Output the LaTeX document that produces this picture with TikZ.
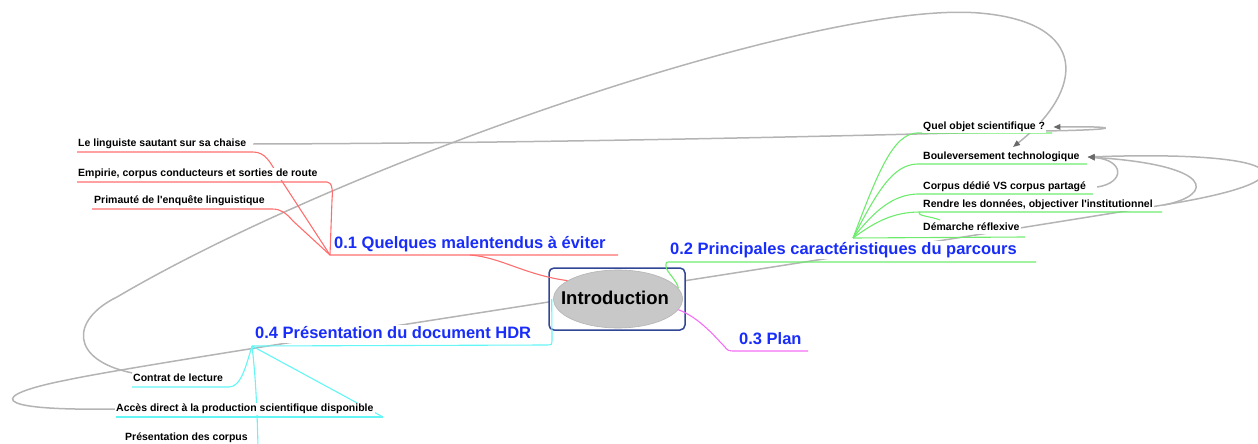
\documentclass[tikz,border=0pt]{standalone}
\usepackage{fontspec}
\setmainfont{Liberation Sans}[Ligatures=TeXOff]
\usetikzlibrary{arrows.meta,shapes.geometric}
\definecolor{headblue}{RGB}{25,45,250}
\definecolor{redc}{RGB}{255,110,110}
\definecolor{greenc}{RGB}{110,235,110}
\definecolor{cyanc}{RGB}{100,245,245}
\definecolor{magc}{RGB}{245,110,245}
\definecolor{linkg}{RGB}{180,180,180}
\definecolor{arrowg}{RGB}{105,105,105}
\definecolor{boxblue}{RGB}{50,70,150}
\definecolor{ellg}{RGB}{200,200,200}
\pgfdeclarelayer{links}
\pgfdeclarelayer{bg}
\pgfsetlayers{links,bg,main}
\tikzset{
  leaf/.style={font=\fontsize{10.5}{12}\selectfont\bfseries, text=black, anchor=west,
    inner xsep=1pt, inner ysep=1pt, fill=white, text height=7.6pt, text depth=2.2pt},
  head/.style={font=\fontsize{16.5}{19}\selectfont\bfseries, text=headblue, anchor=west,
    inner sep=1pt, fill=white, text height=12pt, text depth=3.5pt},
  link/.style={draw=linkg, line width=1.5pt, -{Triangle[length=7pt,width=5.5pt,color=arrowg]}},
  redl/.style={draw=redc, line width=1.1pt},
  greenl/.style={draw=greenc, line width=1.1pt},
  cyanl/.style={draw=cyanc, line width=1.1pt},
  magl/.style={draw=magc, line width=1.1pt},
}
\begin{document}
\begin{tikzpicture}[x=1pt,y=-1pt]
\useasboundingbox (0,0) rectangle (1258,444);

% ---- text nodes
\node[leaf] (n11) at (77,144) {Le linguiste sautant sur sa chaise};
\node[leaf] (n12) at (77,174) {Empirie, corpus conducteurs et sorties de route};
\node[leaf] (n13) at (93,201) {Primauté de l'enquête linguistique};
\node[head] (h01) at (333,244) {0.1 Quelques malentendus à éviter};
\node[head] (h02) at (669,250) {0.2 Principales caractéristiques du parcours};
\node[leaf] (n21) at (922,127) {Quel objet scientifique ?};
\node[leaf] (n22) at (922,157) {Bouleversement technologique};
\node[leaf] (n23) at (922,187) {Corpus dédié VS corpus partagé};
\node[leaf] (n24) at (922,205) {Rendre les données, objectiver l'institutionnel};
\node[leaf] (n25) at (922,228) {Démarche réflexive};
\node[head] (h03) at (738,340) {0.3 Plan};
\node[head] (h04) at (254,334) {0.4 Présentation du document HDR};
\node[leaf] (n41) at (132,379) {Contrat de lecture};
\node[leaf] (n42) at (115,409) {Accès direct à la production scientifique disponible};
\node[leaf] (n43) at (124,438) {Présentation des corpus};

% ---- named points
\coordinate (u11a) at (77,152);  \coordinate (u11b) at (253,152);
\coordinate (u12a) at (77,182);  \coordinate (u12b) at (327,182);
\coordinate (u13a) at (92,209);  \coordinate (u13b) at (272,209);
\coordinate (p1) at (330,255);   \coordinate (u01b) at (618,255);
\coordinate (u02b) at (1036,262);
\coordinate (p2) at (853,238);
\coordinate (u21a) at (917,133); \coordinate (u21b) at (1052,133);
\coordinate (u22a) at (917,164); \coordinate (u22b) at (1087,164);
\coordinate (u23a) at (917,194); \coordinate (u23b) at (1093,194);
\coordinate (u24a) at (920,212); \coordinate (u24b) at (1162,212);
\coordinate (u25b) at (1025,237);
\coordinate (hook) at (940,220);
\coordinate (u03b) at (808,351);
\coordinate (p4) at (252,346);   \coordinate (u04b) at (549,345);
\coordinate (u41a) at (132,387); \coordinate (u41b) at (229,387);
\coordinate (u42a) at (116,417); \coordinate (u42b) at (383,417);
\coordinate (c43) at (258,446);
\coordinate (bT) at (1013,147);

% ---- central topic
\begin{pgfonlayer}{bg}
\node[draw=boxblue, line width=1.5pt, rounded corners=5pt, fill=white,
  minimum width=136pt, minimum height=62pt, inner sep=0pt] (box) at (617,299) {};
\node[ellipse, draw=linkg, line width=0.6pt, fill=ellg, minimum width=129pt,
  minimum height=58pt, inner sep=0pt] (ell) at (618,299) {};

% red branch
\draw[redl] (ell.160) .. controls (525,275) and (500,257) .. (470,255);
\draw[redl] (u11a) -- (u11b) .. controls (265,152) and (270,162) .. (276,172) -- (p1);
\draw[redl] (u12a) -- (u12b) .. controls (332,182) and (333,190) .. (332,200) -- (p1);
\draw[redl] (u13a) -- (u13b) .. controls (281,209) and (286,213) .. (293,221) -- (p1) -- (u01b);

% green branch
\draw[greenl] (ell.10) .. controls (677,280) and (666,272) .. (666,266)
  .. controls (666,262) .. (670,262) -- (u02b);
\draw[greenl] (p2) .. controls (878,172) and (893,134) .. (u21a) -- (u21b);
\draw[greenl] (p2) .. controls (878,190) and (893,165) .. (u22a) -- (u22b);
\draw[greenl] (p2) .. controls (875,210) and (893,195) .. (u23a) -- (u23b);
\draw[greenl] (p2) .. controls (875,222) and (893,212) .. (u24a) -- (u24b);
\draw[greenl] (u24a) .. controls (916,216) and (930,216) .. (hook);
\draw[greenl] (p2) -- (u25b);

% magenta branch
\draw[magl] (ell.-10) .. controls (700,318) and (716,338) .. (724,346)
  .. controls (728,351) .. (736,351) -- (u03b);

% cyan branch
\draw[cyanl] ([xshift=-1.5pt]ell.west) -- (552,339) .. controls (552,345) .. (546,345) -- (p4);
\draw[cyanl] (u41a) -- (u41b) .. controls (241,387) and (246,366) .. (p4);
\draw[cyanl] (p4) -- (u42b);
\draw[cyanl] (u42a) -- (u42b);
\draw[cyanl] (p4) .. controls (256,380) and (257,410) .. (c43);
\end{pgfonlayer}

\node[font=\fontsize{18.5}{21}\selectfont\bfseries, inner sep=0pt] (intro) at (615,298) {Introduction};

% ---- grey cross links
\begin{pgfonlayer}{links}
\draw[link] ([xshift=6pt]n11.east) .. controls (600,143) and (950,133) .. (1040,131)
  .. controls (1125,130) and (1122,126) .. ([xshift=7pt]n21.east);
\draw[link] (n41.north west) .. controls (70,360) and (70,320) .. (117,297)
  .. controls (350,160) and (820,0) .. (979,13)
  .. controls (1090,22) and (1085,90) .. (bT);
\draw[link] (n42.west) .. controls (-15,411) and (-10,395) .. (67,380)
  .. controls (150,362) and (700,280) .. (1163,205)
  .. controls (1320,180) and (1290,150) .. ([xshift=7pt]n22.east);
\draw[link] ([xshift=10pt]n24.east) .. controls (1215,195) and (1215,165) .. ([xshift=7pt]n22.east);
\draw[link] ([xshift=10pt]n23.east) .. controls (1125,183) and (1125,160) .. ([xshift=7pt]n22.east);
\end{pgfonlayer}
\end{tikzpicture}
\end{document}
